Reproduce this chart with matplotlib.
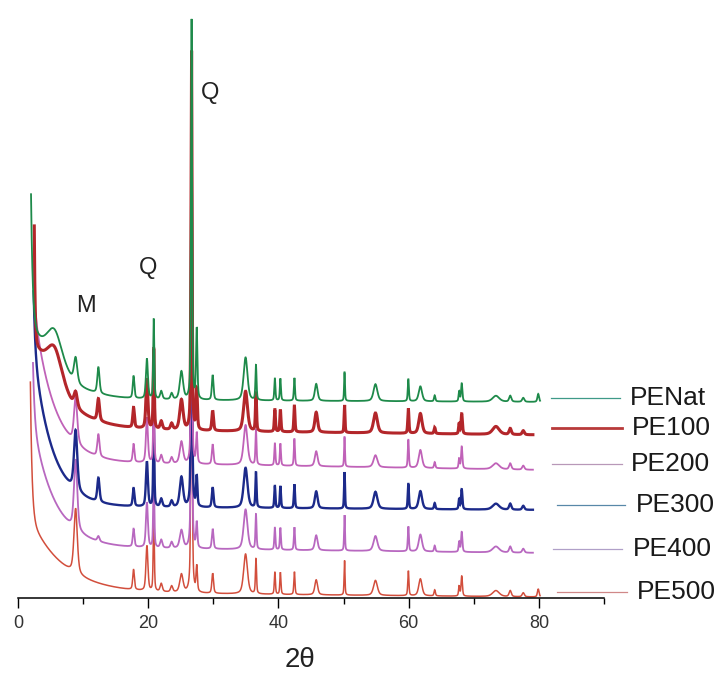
import numpy as np
import matplotlib
matplotlib.use("Agg")
import matplotlib.pyplot as plt
from matplotlib.lines import Line2D
from matplotlib.ticker import MultipleLocator

plt.rcParams["font.family"] = ["Liberation Sans", "DejaVu Sans"]

W, H = 719, 673

samples = ["PENat", "PE100", "PE200", "PE300", "PE400", "PE500"]
curve_colors = ["#1e8a4a", "#b3262a", "#c062b8", "#1c2a8a", "#b868c0", "#d24e3c"]
key_colors = ["#3f9a88", "#b83a3a", "#b898b8", "#5888a8", "#b0a0c8", "#d08888"]
line_widths = [1.3, 2.2, 1.3, 1.7, 1.3, 1.1]

# scan range (2theta) of each pattern
scan_start = [2.0, 2.5, 2.3, 2.4, 2.3, 1.9]
scan_end = [80.2, 79.1, 79.1, 79.1, 79.1, 80.2]

# stacked background: level at 15 deg and at 80 deg, plus low-angle rise
base_15 = [198, 168, 135, 91, 50, 5]
base_80 = [196, 163, 128, 88, 45, 1]
fast_amp = [127, 113, 40, 60, 60, 135]
fast_tau = [0.25, 0.12, 0.25, 0.25, 0.25, 0.25]
slow_amp = [75, 85, 161, 155, 124, 75]
slow_tau = [4.0, 4.2, 3.1, 2.9, 3.4, 5.1]

# reflections: position (deg 2theta), half width (deg)
peak_pos = [5.6, 8.85, 12.35, 17.75, 19.8, 20.85, 22.0, 23.6, 25.1, 26.65,
            27.45, 29.9, 34.95, 36.55, 39.45, 40.3, 42.45, 45.8, 50.15, 54.9,
            59.95, 61.8, 64.0, 67.75, 68.15, 73.4, 75.6, 77.6, 79.9]
peak_hwhm = [1.5, 0.3, 0.2, 0.15, 0.18, 0.1, 0.2, 0.2, 0.3, 0.1,
             0.12, 0.15, 0.35, 0.1, 0.1, 0.1, 0.1, 0.25, 0.08, 0.35,
             0.1, 0.3, 0.12, 0.1, 0.12, 0.6, 0.2, 0.2, 0.15]

# peak intensities for each sample (a.u.)
int_penat = [40, 25, 26, 22, 40, 80, 8, 6, 28, 383, 70, 25, 43, 35, 22, 22, 23,
             17, 29, 17, 22, 15, 6, 10, 18, 6, 6, 4, 8]
int_pe100 = [42, 15, 22, 20, 50, 80, 8, 6, 30, 382, 40, 20, 40, 38, 22, 22, 26,
             20, 28, 20, 25, 20, 6, 10, 20, 8, 6, 4, 8]
int_pe200 = [0, 45, 22, 18, 45, 80, 8, 6, 22, 300, 30, 20, 40, 35, 22, 22, 27,
             15, 30, 12, 28, 18, 6, 10, 22, 6, 6, 4, 8]
int_pe300 = [0, 60, 24, 18, 45, 85, 8, 6, 30, 380, 30, 20, 40, 35, 22, 22, 24,
             17, 37, 17, 25, 18, 6, 10, 20, 6, 6, 4, 8]
int_pe400 = [0, 70, 5, 18, 45, 75, 8, 6, 18, 380, 25, 20, 40, 35, 22, 22, 23,
             15, 36, 15, 25, 17, 6, 10, 20, 6, 6, 4, 8]
int_pe500 = [0, 65, 0, 20, 45, 75, 8, 6, 18, 470, 25, 20, 40, 35, 22, 22, 23,
             15, 35, 15, 25, 17, 6, 10, 20, 6, 6, 4, 8]
intensities = [int_penat, int_pe100, int_pe200, int_pe300, int_pe400, int_pe500]

# phase labels: text, 2theta, height
phase_labels = [("M", 10.5, 292), ("Q", 19.9, 330), ("Q", 29.5, 505)]

# key rows: line start/end x, y, label x (pixels)
key_rows = [(551, 620, 398, 630), (552, 622, 428, 632), (552, 622, 464, 631),
            (557, 625, 505, 636), (553, 622, 549, 633), (557, 627, 592, 637)]


def pseudo_voigt(x, pos, hw, amp, eta=0.5):
    u = (x - pos) / hw
    return amp * (eta / (1 + u ** 2) + (1 - eta) * np.exp(-np.log(2) * u ** 2))


def pattern(i):
    x = np.arange(scan_start[i], scan_end[i], 0.02)
    x0 = scan_start[i]
    y = base_15[i] + (base_80[i] - base_15[i]) * (x - 15) / 65
    y += fast_amp[i] * np.exp(-(x - x0) / fast_tau[i])
    y += slow_amp[i] * np.exp(-(x - x0) / slow_tau[i])
    for p, w, a in zip(peak_pos, peak_hwhm, intensities[i]):
        if a > 0:
            y += pseudo_voigt(x, p, w, a)
    return x, y


fig = plt.figure(figsize=(W / 100, H / 100), dpi=100)
ax = fig.add_axes([18 / W, 75 / H, 586 / W, 588 / H])

# bottom pattern first so the upper ones sit on top
for i in reversed(range(len(samples))):
    x, y = pattern(i)
    ax.plot(x, y, color=curve_colors[i], lw=line_widths[i], solid_joinstyle="miter")

for txt, tx, ty in phase_labels:
    ax.text(tx, ty, txt, fontsize=17, ha="center", va="center", color="#222222")

ax.set_xlim(0, 90)
ax.set_ylim(0, 588)
ax.xaxis.set_major_locator(MultipleLocator(20))
ax.xaxis.set_minor_locator(MultipleLocator(10))
ax.tick_params(axis="x", which="major", length=7, width=1.0, pad=5,
               labelsize=13, labelcolor="#333333")
ax.tick_params(axis="x", which="minor", length=4, width=1.0)
ax.set_yticks([])
for side in ["left", "right", "top"]:
    ax.spines[side].set_visible(False)
ax.spines["bottom"].set_linewidth(1.1)
ax.patch.set_alpha(0)

for i, (xa, xb, yk, xl) in enumerate(key_rows):
    fig.add_artist(Line2D([xa / W, xb / W], [1 - yk / H, 1 - yk / H],
                          color=key_colors[i], lw=2.0 if i == 1 else 0.9))
    fig.text(xl / W, 1 - yk / H, samples[i], fontsize=19, ha="left",
             va="center", color="#1a1a1a")

fig.text(300 / W, 1 - 660 / H, "2θ", fontsize=20, ha="center", va="center",
         color="#222222")

fig.savefig("out.png", dpi=100)
